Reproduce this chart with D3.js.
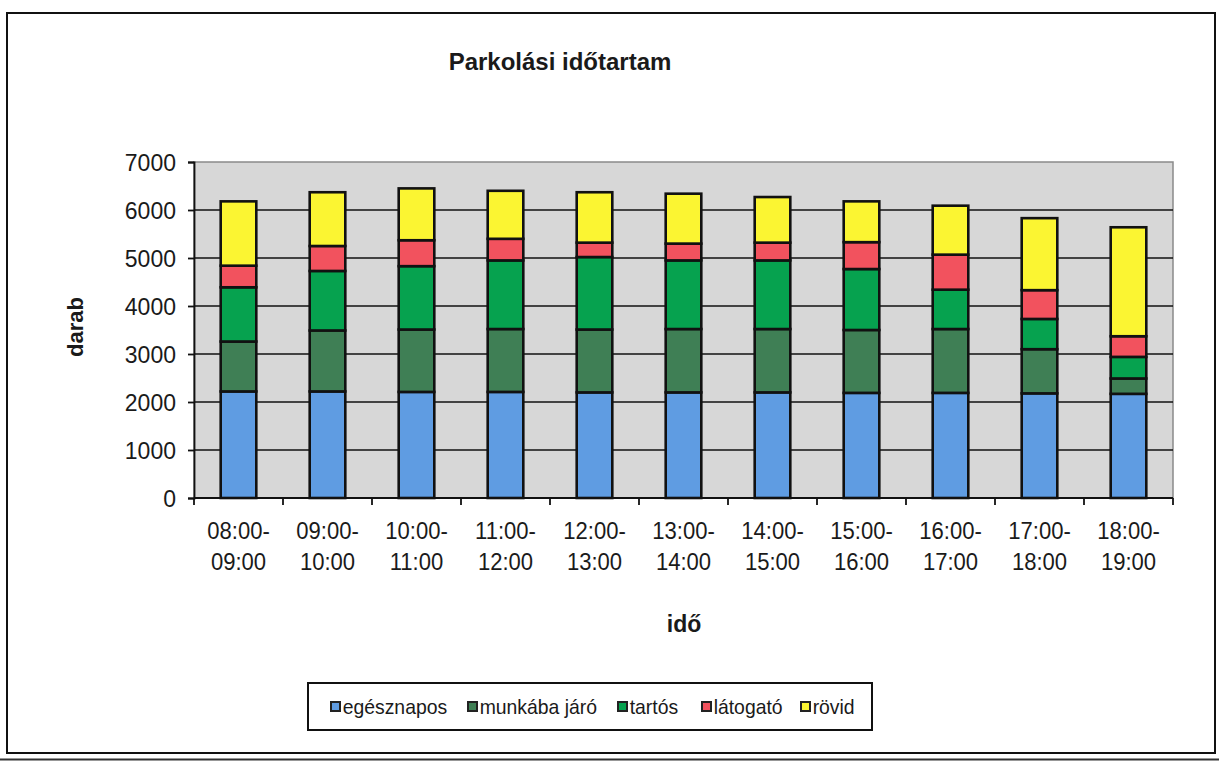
<!DOCTYPE html>
<html>
<head>
<meta charset="utf-8">
<script src="https://cdn.jsdelivr.net/npm/d3@7"></script>
<style>
  html, body { margin: 0; padding: 0; background: #ffffff; }
  svg { display: block; }
  text { font-family: "Liberation Sans", Arial, sans-serif; fill: #1a1a1a; }
</style>
</head>
<body>
<svg id="chart" width="1219" height="761"></svg>
<script>
// Time slots (two-line labels)
const categories = [
  "08:00-|09:00", "09:00-|10:00", "10:00-|11:00", "11:00-|12:00",
  "12:00-|13:00", "13:00-|14:00", "14:00-|15:00", "15:00-|16:00",
  "16:00-|17:00", "17:00-|18:00", "18:00-|19:00"
];

// Parked vehicles per duration class
const egesznapos  = [2220, 2220, 2210, 2210, 2200, 2200, 2200, 2190, 2190, 2180, 2170];
const munkabaJaro = [1040, 1270, 1300, 1310, 1310, 1320, 1320, 1310, 1330, 920, 320];
const tartos      = [1130, 1240, 1320, 1430, 1510, 1430, 1430, 1270, 820, 630, 450];
const latogato    = [450, 520, 540, 450, 300, 350, 370, 560, 730, 600, 430];
const rovid       = [1340, 1120, 1080, 1000, 1050, 1040, 950, 850, 1020, 1500, 2270];

const seriesNames = ["egésznapos", "munkába járó", "tartós", "látogató", "rövid"];
const seriesColors = ["#5f9ce2", "#3f7f55", "#06a24f", "#f2525e", "#fbf532"];
const yTicks = [0, 1000, 2000, 3000, 4000, 5000, 6000, 7000];

const title = "Parkolási időtartam";
const xTitle = "idő";
const yTitle = "darab";

const seriesValues = [egesznapos, munkabaJaro, tartos, latogato, rovid];
const keys = seriesNames;
const rows = categories.map((c, i) => {
  const r = { cat: c };
  keys.forEach((k, j) => { r[k] = seriesValues[j][i]; });
  return r;
});

const svg = d3.select("#chart");

// Outer frame
svg.append("rect")
  .attr("x", 7).attr("y", 13).attr("width", 1208).attr("height", 740)
  .attr("fill", "#ffffff").attr("stroke", "#111").attr("stroke-width", 2);
svg.append("line")
  .attr("x1", 0).attr("x2", 1219).attr("y1", 759.5).attr("y2", 759.5)
  .attr("stroke", "#333").attr("stroke-width", 2);

// Plot geometry
const plot = { left: 194, right: 1173, top: 162, bottom: 498 };

const x = d3.scaleBand()
  .domain(categories)
  .range([plot.left, plot.right])
  .paddingInner(0.6)
  .paddingOuter(0.3);

const y = d3.scaleLinear()
  .domain([0, 7000])
  .range([plot.bottom, plot.top]);

// Plot background
svg.append("rect")
  .attr("x", plot.left).attr("y", plot.top)
  .attr("width", plot.right - plot.left).attr("height", plot.bottom - plot.top)
  .attr("fill", "#d7d7d7").attr("stroke", "#8a8a8a").attr("stroke-width", 1.5);

// Horizontal gridlines
svg.append("g")
  .selectAll("line")
  .data(yTicks.filter(t => t > 0 && t < 7000))
  .join("line")
  .attr("x1", plot.left).attr("x2", plot.right)
  .attr("y1", d => y(d)).attr("y2", d => y(d))
  .attr("stroke", "#111").attr("stroke-width", 1.6);

// Stacked bars
const stacked = d3.stack().keys(keys)(rows);
const barLayer = svg.append("g");
stacked.forEach((layer, li) => {
  barLayer.append("g")
    .selectAll("rect")
    .data(layer)
    .join("rect")
    .attr("x", d => x(d.data.cat))
    .attr("width", x.bandwidth())
    .attr("y", d => y(d[1]))
    .attr("height", d => y(d[0]) - y(d[1]))
    .attr("fill", seriesColors[li])
    .attr("stroke", "#111")
    .attr("stroke-width", 2.6);
});

// Y axis
const yAxis = svg.append("g")
  .attr("transform", `translate(${plot.left},0)`)
  .call(d3.axisLeft(y).tickValues(yTicks).tickSize(6).tickPadding(12).tickFormat(d3.format("d")));
yAxis.select(".domain").attr("stroke", "#111").attr("stroke-width", 1.8);
yAxis.selectAll(".tick line").attr("stroke", "#111").attr("stroke-width", 1.8);
yAxis.selectAll(".tick text")
  .attr("font-size", 23)
  .attr("font-family", "Liberation Sans, Arial, sans-serif")
  .attr("fill", "#1a1a1a")
  .attr("dy", "0.36em");

// X axis: line at baseline with tick marks at category boundaries
const xAxisG = svg.append("g");
xAxisG.append("line")
  .attr("x1", plot.left).attr("x2", plot.right)
  .attr("y1", plot.bottom).attr("y2", plot.bottom)
  .attr("stroke", "#111").attr("stroke-width", 1.8);
const step = x.step();
const boundaries = categories.map(c => x(c) - x.paddingInner() * step / 2)
  .concat([plot.right]);
xAxisG.selectAll("line.tk")
  .data(boundaries)
  .join("line")
  .attr("class", "tk")
  .attr("x1", d => d).attr("x2", d => d)
  .attr("y1", plot.bottom).attr("y2", plot.bottom + 7)
  .attr("stroke", "#111").attr("stroke-width", 1.8);

// Category labels on two lines
const xl = xAxisG.selectAll("g.lbl")
  .data(categories)
  .join("g")
  .attr("class", "lbl")
  .attr("transform", d => `translate(${x(d) + x.bandwidth() / 2},0) scale(0.92,1)`);
xl.append("text")
  .attr("text-anchor", "middle")
  .attr("y", 539)
  .attr("font-size", 24)
  .text(d => d.split("|")[0]);
xl.append("text")
  .attr("text-anchor", "middle")
  .attr("y", 570)
  .attr("font-size", 24)
  .text(d => d.split("|")[1]);

// Title
svg.append("text")
  .attr("x", 560).attr("y", 70)
  .attr("text-anchor", "middle")
  .attr("font-size", 24)
  .attr("font-weight", "bold")
  .text(title);

// Axis titles
svg.append("text")
  .attr("x", 684).attr("y", 632)
  .attr("text-anchor", "middle")
  .attr("font-size", 23)
  .attr("font-weight", "bold")
  .text(xTitle);

svg.append("text")
  .attr("transform", "translate(83,327) rotate(-90)")
  .attr("text-anchor", "middle")
  .attr("font-size", 22)
  .attr("font-weight", "bold")
  .text(yTitle);

// Legend
const legend = svg.append("g");
legend.append("rect")
  .attr("x", 308).attr("y", 683).attr("width", 564).attr("height", 47)
  .attr("fill", "#ffffff").attr("stroke", "#111").attr("stroke-width", 2);
const legendX = [331, 468, 618, 702, 801];
const li = legend.selectAll("g.item")
  .data(seriesNames)
  .join("g")
  .attr("class", "item")
  .attr("transform", (d, i) => `translate(${legendX[i]},707)`);
li.append("rect")
  .attr("x", 0).attr("y", -5).attr("width", 9).attr("height", 9)
  .attr("fill", (d, i) => seriesColors[i])
  .attr("stroke", "#222").attr("stroke-width", 2);
li.append("text")
  .attr("x", 12).attr("y", 7)
  .attr("font-size", 20)
  .attr("transform", "scale(0.97,1)")
  .text(d => d);
</script>
</body>
</html>
